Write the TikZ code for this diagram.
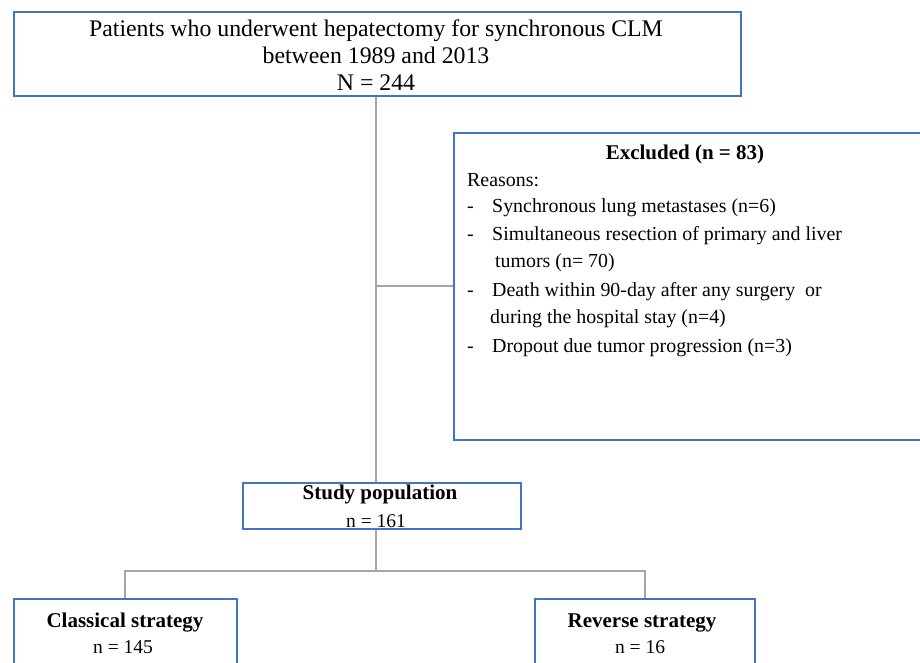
\documentclass[tikz,border=0pt]{standalone}
\usepackage{fontspec}
\setmainfont{Liberation Serif}
\definecolor{boxblue}{HTML}{4472C4}
\definecolor{linegray}{HTML}{A6A6A6}
\begin{document}
\begin{tikzpicture}[x=1pt,y=-1pt,
  box/.style={draw=boxblue,line width=1.8pt,fill=white,inner sep=0pt},
  conn/.style={draw=linegray,line width=2pt},
  txt/.style={inner sep=0pt,anchor=base,font=\fontsize{23.8}{28}\selectfont},
  etxt/.style={inner sep=0pt,anchor=base west,font=\fontsize{19.9}{24}\selectfont},
  btxt/.style={inner sep=0pt,anchor=base,font=\fontsize{21}{25}\selectfont\bfseries},
  ntxt/.style={inner sep=0pt,anchor=base,font=\fontsize{19.5}{24}\selectfont}]
\useasboundingbox (0,0) rectangle (920,663);
\clip (0,0) rectangle (920,663);
\fill[white] (0,0) rectangle (920,663);
% boxes
\node[box,anchor=north west,minimum width=727pt,minimum height=84pt] (top) at (13,11) {};
\node[box,anchor=north west,minimum width=490pt,minimum height=307pt] (excl) at (453,132) {};
\node[box,anchor=north west,minimum width=278pt,minimum height=46pt] (study) at (242,482) {};
\node[box,anchor=north west,minimum width=223pt,minimum height=90pt] (cls) at (13,598) {};
\node[box,anchor=north west,minimum width=220pt,minimum height=90pt] (rev) at (534,598) {};
\coordinate (split) at (376,571);
% connectors
\draw[conn] (top.south -| split) -- (study.north -| split);
\draw[conn] (excl.west -| split) -- (excl.west);
\draw[conn] (study.south -| split) -- (split);
\draw[conn] (cls.north) |- (split) -| (rev.north);
% top text
\node[txt] (t1) at (376,37) {Patients who underwent hepatectomy for synchronous CLM};
\node[txt] (t2) at (376,64) {between 1989 and 2013};
\node[txt] (t3) at (376,91) {N = 244};
% excluded text
\node[btxt] (eh) at (685,160) {Excluded (n = 83)};
\node[etxt] (er) at (467,186) {Reasons:};
\node[etxt] (d1) at (467,212) {-};
\node[etxt] (e1) at (492,212) {Synchronous lung metastases (n=6)};
\node[etxt] (d2) at (467,240) {-};
\node[etxt] (e2) at (492,240) {Simultaneous resection of primary and liver};
\node[etxt] (e2b) at (495,267) {tumors (n= 70)};
\node[etxt] (d3) at (467,296) {-};
\node[etxt] (e3) at (492,296) {Death within 90-day after any surgery\ \ or};
\node[etxt] (e3b) at (490,323) {during the hospital stay (n=4)};
\node[etxt] (d4) at (467,352) {-};
\node[etxt] (e4) at (492,352) {Dropout due tumor progression (n=3)};
% study
\node[btxt] (s1) at (380,499) {Study population};
\node[ntxt] (s2) at (376,527) {n = 161};
% classical
\node[btxt] (c1) at (125,627) {Classical strategy};
\node[ntxt] (c2) at (123,653) {n = 145};
% reverse
\node[btxt] (r1) at (642,627) {Reverse strategy};
\node[ntxt] (r2) at (640,653) {n = 16};
\end{tikzpicture}
\end{document}
